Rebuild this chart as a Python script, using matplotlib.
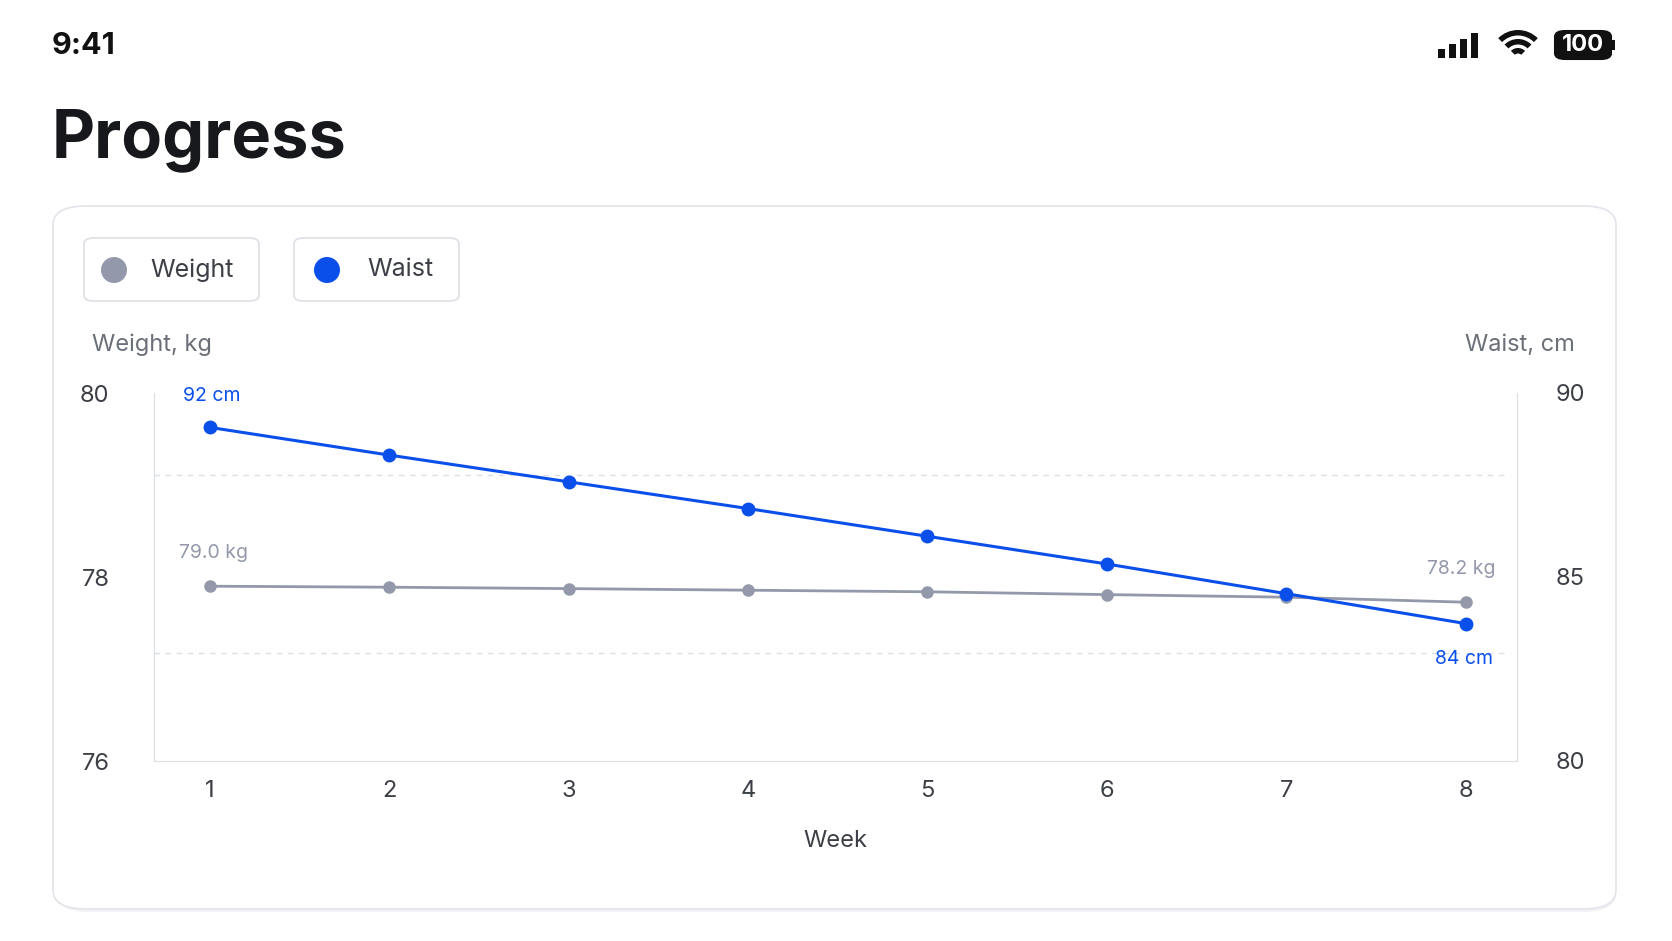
import numpy as np
import matplotlib.pyplot as plt
from matplotlib.patches import FancyBboxPatch, Circle, Rectangle, Wedge

plt.rcParams['font.family'] = ['Inter', 'DejaVu Sans']

W, H = 1672, 941
weeks = [1, 2, 3, 4, 5, 6, 7, 8]
weight = [79.0, 78.95, 78.88, 78.8, 78.72, 78.58, 78.45, 78.2]
waist = [92.0, 90.87, 89.78, 88.69, 87.56, 86.43, 85.22, 84.0]
left_ticks = [76, 78, 80]
right_ticks = [80, 85, 90]

BLUE = '#0B4FEA'
GRAY = '#9399AA'
TXT = '#3C3F46'

fig = plt.figure(figsize=(W / 100, H / 100), dpi=100)
fig.patch.set_facecolor('white')
inch = fig.dpi_scale_trans

def fx(px):
    return px / W

def fy(py):
    return 1 - py / H

def ip(px, py):
    # pixel position (from top left) -> inches
    return (px / 100, (H - py) / 100)

# card
fig.patches.append(FancyBboxPatch((fx(56), fy(912)), fx(1616 - 56), (912 - 208) / H,
                                  boxstyle='round,pad=0,rounding_size=0.02', transform=fig.transFigure,
                                  fc='#F2F3F5', ec='none', zorder=-2))
fig.patches.append(FancyBboxPatch((fx(53), fy(909)), fx(1616 - 53), (909 - 206) / H,
                                  boxstyle='round,pad=0,rounding_size=0.02', transform=fig.transFigure,
                                  fc='white', ec='#E2E4E9', lw=1.2, zorder=-1))

# status bar
fig.text(fx(52), fy(46), '9:41', fontsize=22, fontweight='bold', color='#111111', va='center')
for i, h in enumerate([9, 14, 19, 25]):
    fig.patches.append(Rectangle((fx(1438 + i * 11), fy(58)), fx(7), h / H,
                                 transform=fig.transFigure, fc='#111111', ec='none'))
for r in [0.28, 0.19, 0.10]:
    fig.patches.append(Wedge(ip(1518, 58), r, 45, 135, width=0.055,
                             transform=inch, fc='#111111', ec='none'))
fig.patches.append(FancyBboxPatch((fx(1555), fy(59)), fx(56), 28 / H,
                                  boxstyle='round,pad=0,rounding_size=0.006', transform=fig.transFigure,
                                  fc='#111111', ec='#111111', lw=1.5))
fig.patches.append(Rectangle((fx(1612), fy(50)), fx(3), 10 / H, transform=fig.transFigure, fc='#111111'))
fig.text(fx(1583), fy(45), '100', fontsize=17, fontweight='bold', color='white', ha='center', va='center')

fig.text(fx(52), fy(140), 'Progress', fontsize=48, fontweight='bold', color='#17181C', va='center')

# legend chips
for x0, x1, cx, tx, col, lab in [(84, 259, 114, 150, GRAY, 'Weight'), (294, 459, 327, 367, BLUE, 'Waist')]:
    fig.patches.append(FancyBboxPatch((fx(x0), fy(301)), fx(x1 - x0), 63 / H,
                                      boxstyle='round,pad=0,rounding_size=0.006', transform=fig.transFigure,
                                      fc='white', ec='#DDDFE4', lw=1.2))
    fig.patches.append(Circle(ip(cx, 270), 0.13, transform=inch, fc=col, ec='none'))
    fig.text(fx(tx), fy(270), lab, fontsize=18, color=TXT, va='center')

# axes
ax = fig.add_axes([fx(154), fy(761), fx(1517 - 154), (761 - 393) / H])
ax.set_zorder(2)
ax.patch.set_alpha(0)
ax.set_xlim(0.69, 8.285)
ax.set_ylim(76, 80)
ax.set_yticks(left_ticks)
ax.set_xticks(weeks)
ax.tick_params(length=0, labelsize=17, colors=TXT, pad=14)
ax.tick_params(axis='y', pad=32)
ax.spines['top'].set_visible(False)
for s in ['left', 'bottom', 'right']:
    ax.spines[s].set_color('#DADDE3')
for frac in [0.777, 0.293]:
    ax.axhline(76 + 4 * frac, xmin=0, xmax=0.995, color='#DCDFE5', lw=1, ls=(0, (4, 4)))
ax.set_xlabel('Week', fontsize=17, color=TXT, labelpad=20)

axr = ax.twinx()
axr.set_ylim(80, 90)
axr.set_yticks(right_ticks)
axr.tick_params(length=0, labelsize=17, colors=TXT, pad=28)
for s in axr.spines.values():
    s.set_visible(False)

# data axes
axw = ax.twinx()
axw.set_ylim(70.26, 88.66)
axw.axis('off')
axw.plot(weeks, weight, color=GRAY, lw=2, marker='o', ms=8, zorder=3)
axb = ax.twinx()
axb.set_ylim(78.4, 93.4)
axb.axis('off')
axb.plot(weeks, waist, color=BLUE, lw=2.2, marker='o', ms=9, zorder=4)

axw.annotate(f'{weight[0]:.1f} kg', (weeks[0], weight[0]), xytext=(4, 28), textcoords='offset pixels',
             ha='center', fontsize=14, color=GRAY)
axw.annotate(f'{weight[-1]:.1f} kg', (weeks[-1], weight[-1]), xytext=(-5, 28), textcoords='offset pixels',
             ha='center', fontsize=14, color=GRAY)
axb.annotate(f'{waist[0]:.0f} cm', (weeks[0], waist[0]), xytext=(2, 26), textcoords='offset pixels',
             ha='center', fontsize=14, color=BLUE)
axb.annotate(f'{waist[-1]:.0f} cm', (weeks[-1], waist[-1]), xytext=(-2, -40), textcoords='offset pixels',
             ha='center', fontsize=14, color=BLUE)

fig.text(fx(92), fy(345), 'Weight, kg', fontsize=17, color='#6B6F78', va='center')
fig.text(fx(1575), fy(345), 'Waist, cm', fontsize=17, color='#6B6F78', va='center', ha='right')

fig.savefig('out.png', dpi=100, facecolor='white')
